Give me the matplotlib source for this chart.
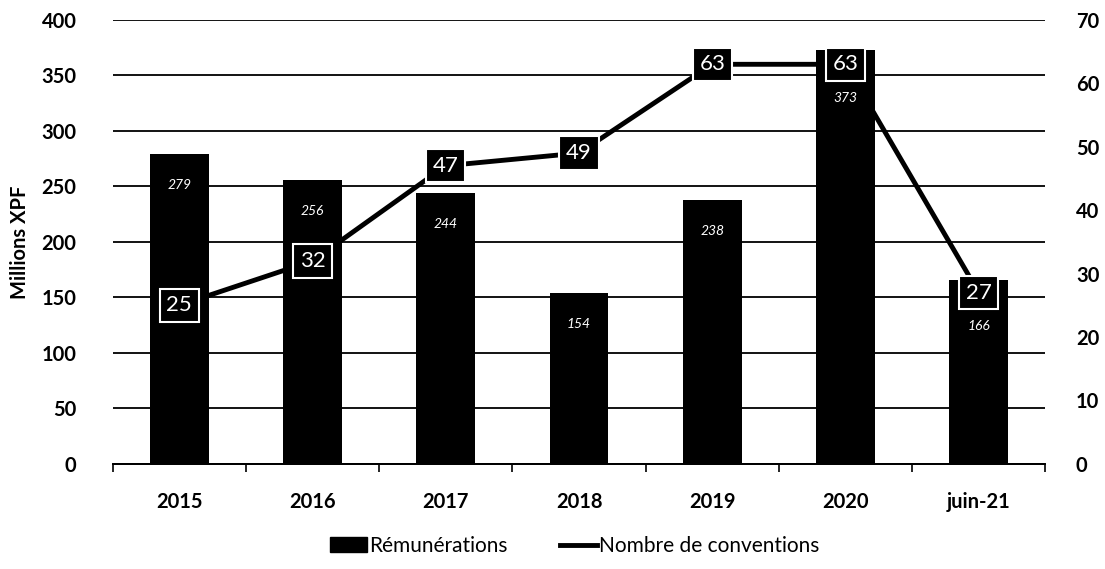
import matplotlib.pyplot as plt
from matplotlib.lines import Line2D
from matplotlib.patches import Patch

plt.rcParams['font.family'] = ['Lato', 'DejaVu Sans']

# Données
annees = ['2015', '2016', '2017', '2018', '2019', '2020', 'juin-21']
remunerations = [279, 256, 244, 154, 238, 373, 166]
conventions = [25, 32, 47, 49, 63, 63, 27]

fig = plt.figure(figsize=(11.05, 5.69), dpi=100)
ax = fig.add_axes([0.102, 0.185, 0.844, 0.78])
ax2 = ax.twinx()

x = list(range(len(annees)))

# Barres : rémunérations
ax.bar(x, remunerations, width=0.44, color='black', zorder=2)
for xi, v, n in zip(x, remunerations, conventions):
    y = v - 28
    ligne = n * 400 / 70  # position de l'étiquette de la ligne, en unités de gauche
    if abs(y - ligne) < 25:
        y = ligne - 30
    ax.text(xi, y, str(v), color='white', fontsize=10, style='italic',
            ha='center', va='center', zorder=3)

ax.set_ylim(0, 400)
ax.set_yticks(range(0, 401, 50))
ax.set_xlim(-0.5, len(annees) - 0.5)
ax.set_xticks(x)
ax.set_xticklabels(annees)
ax.set_xticks([i + 0.5 for i in range(-1, len(annees))], minor=True)
ax.tick_params(axis='x', which='major', length=0, pad=20)
ax.tick_params(axis='x', which='minor', length=6, width=1.2, direction='out')
ax.tick_params(axis='y', length=0, pad=26)
for lab in ax.get_xticklabels() + ax.get_yticklabels():
    lab.set_fontsize(14.5)
    lab.set_fontweight('bold')
ax.set_ylabel('Millions XPF', fontsize=14.5, fontweight='bold', labelpad=8)
ax.yaxis.grid(True, color='black', linewidth=1.3, zorder=0)
ax.set_axisbelow(True)

# Ligne : nombre de conventions
ax2.plot(x, conventions, color='black', linewidth=3.5, zorder=4)
for xi, v in zip(x, conventions):
    ax2.text(xi, v, str(v), color='white', fontsize=16, ha='center', va='center',
             zorder=5,
             bbox=dict(boxstyle='square,pad=0.3', facecolor='black',
                       edgecolor='white', linewidth=1.5))
ax2.set_ylim(0, 70)
ax2.set_yticks(range(0, 71, 10))
ax2.tick_params(axis='y', length=0, pad=22)
for lab in ax2.get_yticklabels():
    lab.set_fontsize(14.5)
    lab.set_fontweight('bold')

for a in (ax, ax2):
    a.spines['top'].set_visible(False)
    a.spines['left'].set_visible(False)
    a.spines['right'].set_visible(False)
    a.spines['bottom'].set_linewidth(1.3)

handles = [Patch(facecolor='black', edgecolor='black', label='Rémunérations'),
           Line2D([0], [0], color='black', linewidth=3.5, label='Nombre de conventions')]
fig.legend(handles=handles, loc='lower center', ncol=2, frameon=False,
           fontsize=15, bbox_to_anchor=(0.52, -0.01), handlelength=1.8,
           handletextpad=0.1, columnspacing=2.5)

fig.savefig('out.png', dpi=100)
